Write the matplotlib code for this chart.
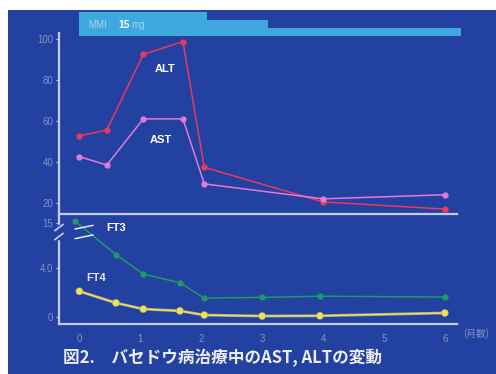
import numpy as np
import matplotlib
matplotlib.use("Agg")
import matplotlib.pyplot as plt
import matplotlib.patheffects as pe
from matplotlib.patches import Rectangle

plt.rcParams['font.family'] = ['Liberation Sans', 'DejaVu Sans']

# AST / ALT (IU/L)
x_liver = [0, 0.45, 1.05, 1.7, 2.05, 4, 6]
alt = [52.7, 55.6, 92.5, 98.7, 37.4, 20.5, 17]
ast = [42.6, 38.5, 61, 61, 29.3, 22, 24]

# FT3 / FT4
x_ft4 = [0, 0.6, 1.05, 1.65, 2.05, 3, 3.95, 6]
x_ft3 = [-0.08, 0.6, 1.05, 1.65, 2.05, 3, 3.95, 6]
ft3 = [16, 5.1, 3.5, 2.8, 1.55, 1.6, 1.7, 1.63]
ft4 = [2.1, 1.15, 0.65, 0.5, 0.16, 0.08, 0.1, 0.33]

# MMI dose steps (mg)
dose_start = [0, 2.1, 3.1]
dose_end = [2.1, 3.1, 6.27]
dose_mg = [15, 10, 5]

x_ticks = [0, 1, 2, 3, 4, 5, 6]
upper_ticks = [20, 40, 60, 80, 100]
lower_ticks = [0, 4, 15]
lower_labels = ['0', '4.0', '15']

BG = '#2341a0'
AXC = '#c6caf2'
TXC = '#8990c0'
XLIM = (-0.335, 6.2)

# broken scale for the lower panel: compress everything above 6
K = 0.1855
def fwd(y):
    y = np.asarray(y, dtype=float)
    return np.where(y <= 6, y, 6 + (y - 6) * K)
def inv(s):
    s = np.asarray(s, dtype=float)
    return np.where(s <= 6, s, 6 + (s - 6) / K)

fig = plt.figure(figsize=(4.96, 3.74), dpi=100, facecolor='white')
fig.patches.append(Rectangle((8 / 496, 0), 1, 1 - 10 / 374, transform=fig.transFigure,
                             facecolor=BG, edgecolor='none', zorder=-10))

L, W = 59 / 496, (457 - 59) / 496
ax1 = fig.add_axes([L, (374 - 214) / 374, W, (214 - 33) / 374])
ax2 = fig.add_axes([L, (374 - 324) / 374, W, (324 - 214) / 374])
axd = fig.add_axes([L, (374 - 36) / 374, W, 24 / 374])

for ax in (ax1, ax2, axd):
    ax.set_facecolor('none')
    ax.set_xlim(*XLIM)
    for s in ax.spines.values():
        s.set_visible(False)

# dose bar
for s, e, d in zip(dose_start, dose_end, dose_mg):
    axd.bar(s, d, width=e - s, align='edge', color='#3ea8df', linewidth=0, clip_on=False)
axd.set_ylim(0, 15)
axd.set_xticks([])
axd.set_yticks([])
fig.text(88 / 496, 1 - 25 / 374, 'MMI', color='#a8d8f2', fontsize=7, va='center')
fig.text(118 / 496, 1 - 25 / 374, '15', color='white', fontsize=7.5, fontweight='bold', va='center')
fig.text(131 / 496, 1 - 25 / 374, 'mg', color='#a8d8f2', fontsize=7, va='center')

# upper panel: ALT, AST
ax1.plot(x_liver, alt, color='#e83a5c', marker='o', markersize=3.5, linewidth=1.1)
ax1.plot(x_liver, ast, color='#e47ad6', marker='o', markersize=3.5, linewidth=1.1)
ax1.set_ylim(14.6, 102.9)
ax1.set_yticks(upper_ticks)
ax1.set_xticks([])
ax1.spines['left'].set_visible(True)
ax1.spines['bottom'].set_visible(True)
ax1.text(1.41, 85.4, 'ALT', color='white', fontsize=8, fontweight='bold', ha='center', va='center')
ax1.text(1.34, 50.7, 'AST', color='white', fontsize=8, fontweight='bold', ha='center', va='center')

# lower panel: FT3, FT4
ax2.set_yscale('function', functions=(fwd, inv))
ax2.plot(x_ft3, ft3, color='#1c9a66', marker='o', markersize=3.5, linewidth=1.1)
ax2.plot(x_ft4, ft4, color='#f2e63c', marker='o', markersize=3.5, linewidth=1.0,
         path_effects=[pe.withStroke(linewidth=2.0, foreground='#a4a4b4')])
ax2.set_ylim(-0.57, 19)
ax2.set_yticks(lower_ticks)
ax2.set_yticklabels(lower_labels)
ax2.set_xticks(x_ticks)
ax2.spines['left'].set_visible(True)
ax2.spines['bottom'].set_visible(True)
ax2.text(0.6, 12.8, 'FT3', color='white', fontsize=8, fontweight='bold', ha='center', va='center')
ax2.text(0.27, 3.18, 'FT4', color='#e4e6f8', fontsize=8, fontweight='bold', ha='center', va='center')

for ax in (ax1, ax2):
    for s in ('left', 'bottom'):
        ax.spines[s].set_color(AXC)
        ax.spines[s].set_linewidth(1.6)
    ax.tick_params(colors=AXC, labelcolor=TXC, labelsize=7, length=2, width=0.8, pad=2)
ax2.tick_params(axis='x', length=0, pad=7)

# break marks on the axis and on the FT3 line
yb = (324 - 232) / 110
dx, dy = 4 / 398, 3 / 110
ax2.plot([0, 0], [yb - 2 * dy, yb + 2 * dy], color=BG, linewidth=2.5,
         transform=ax2.transAxes, clip_on=False, zorder=5)
for off in (-1.5 * dy, 1.5 * dy):
    ax2.plot([-dx, dx], [yb + off - dy, yb + off + dy], color=AXC, linewidth=1.2,
             transform=ax2.transAxes, clip_on=False, zorder=6)
xb = (84 - 59) / 398
for off in (-1.6 * dy, 1.6 * dy):
    ax2.plot([xb - 2.2 * dx, xb + 2.2 * dx], [yb + off - 0.6 * dy, yb + off + 0.6 * dy],
             color='#e6e8f8', linewidth=1.1, transform=ax2.transAxes, zorder=6)

fig.text(463 / 496, 1 - 334 / 374, '(月数)', color=TXC, fontsize=7, va='center',
         family=['Noto Sans CJK JP', 'DejaVu Sans'])
fig.text(63 / 496, 1 - 358 / 374, '図2.　バセドウ病治療中のAST, ALTの変動', color='#ececf4',
         fontsize=12, fontweight='bold', va='center', family=['Noto Sans CJK JP', 'DejaVu Sans'])

fig.savefig('out.png', dpi=100, facecolor='white')
